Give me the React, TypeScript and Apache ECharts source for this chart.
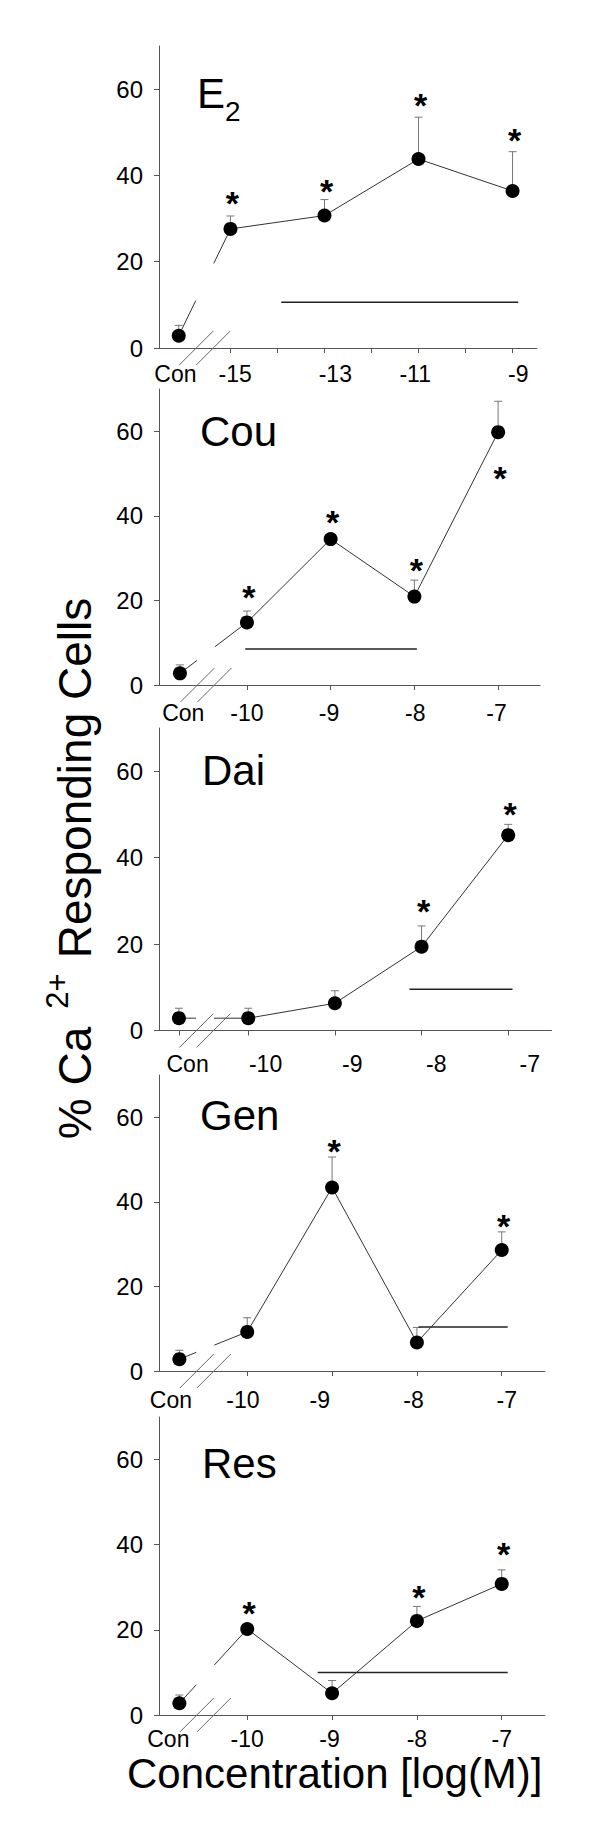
import React, { useEffect, useRef } from 'react';
import * as echarts from 'echarts';

const FONT = '"Liberation Sans", Arial, Helvetica, sans-serif';

// ---------- data (log M concentrations; first entry = control "Con") ----------
const e2X = [-16.1, -15, -13, -11, -9];
const e2Mean = [2.85, 27.6, 30.7, 43.8, 36.4];
const e2Sem = [2.4, 3.0, 3.7, 9.7, 9.1];
const e2Stars = [[-15, 35.5], [-13, 38.2], [-11, 58.2], [-9, 50.0]];
const e2Sig = [-13.92, -8.88, 10.6];

const couX = [-10.8, -10, -9, -8, -7];
const couMean = [2.75, 14.8, 34.5, 20.9, 59.8];
const couSem = [2.0, 2.7, 1.0, 3.9, 7.3];
const couStars = [[-10, 22.8], [-9, 40.5], [-8, 29.1], [-7, 50.8]];
const couSig = [-10.02, -7.97, 8.5];

const daiX = [-10.8, -10, -9, -8, -7];
const daiMean = [2.85, 2.85, 6.3, 19.4, 45.2];
const daiSem = [2.3, 2.3, 2.9, 4.8, 2.5];
const daiStars = [[-8, 29.5], [-7, 51.9]];
const daiSig = [-8.14, -6.95, 9.55];

const genX = [-10.8, -10, -9, -8, -7];
const genMean = [2.8, 9.25, 43.4, 6.75, 28.6];
const genSem = [2.1, 3.35, 7.2, 3.55, 4.3];
const genStars = [[-9, 54.0], [-7, 36.2]];
const genSig = [-7.98, -6.93, 10.4];

const resX = [-10.8, -10, -9, -8, -7];
const resMean = [2.75, 20.2, 5.1, 22.1, 30.8];
const resSem = [1.95, 1.0, 3.0, 3.4, 3.3];
const resStars = [[-10, 25.9], [-8, 29.6], [-7, 39.6]];
const resSig = [-9.17, -6.93, 10.0];

// ---------- tick labels ----------
const yTicks = [0, 20, 40, 60];
const e2Ticks = [-15, -14, -13, -12, -11, -10, -9];
const e2LabelVals = [-16.17, -14.9, -12.77, -11.07, -8.88];
const e2Labels = ['Con', '-15', '-13', '-11', '-9'];
const couTicks = [-10, -9, -8, -7];
const couLabelVals = [-10.76, -10, -9.02, -7.99, -7.02];
const daiTicks = [-10.8, -10, -9, -8, -7];
const daiLabelVals = [-10.7, -9.8, -8.8, -7.83, -6.75];
const genTicks = [-10, -9, -8, -7];
const genLabelVals = [-10.9, -10.05, -9.145, -8.04, -6.94];
const resTicks = [-10, -9, -8, -7];
const resLabelVals = [-10.93, -10, -9.03, -8, -7];
const logLabels = ['Con', '-10', '-9', '-8', '-7'];

const panels = [
  { x: e2X, mean: e2Mean, sem: e2Sem, stars: e2Stars, sig: e2Sig, ticks: e2Ticks, labelVals: e2LabelVals, labels: e2Labels },
  { x: couX, mean: couMean, sem: couSem, stars: couStars, sig: couSig, ticks: couTicks, labelVals: couLabelVals, labels: logLabels },
  { x: daiX, mean: daiMean, sem: daiSem, stars: daiStars, sig: daiSig, ticks: daiTicks, labelVals: daiLabelVals, labels: logLabels },
  { x: genX, mean: genMean, sem: genSem, stars: genStars, sig: genSig, ticks: genTicks, labelVals: genLabelVals, labels: logLabels },
  { x: resX, mean: resMean, sem: resSem, stars: resStars, sig: resSig, ticks: resTicks, labelVals: resLabelVals, labels: logLabels },
];

// ---------- layout ----------
const gridTop = [46, 389, 728, 1075, 1417];
const gridHeight = [302, 296, 302.5, 296, 298];
const gridWidth = [378, 381, 392.5, 386, 386];
const xMin = [-16.52, -11.05, -11.03, -11.04, -11.04];
const xMax = [-8.48, -6.5, -6.5, -6.49, -6.49];
const labelMargin = [14, 16, 21.5, 17.5, 12.5];
const titlePos = [[197, 93], [200, 431.7], [202, 770], [200, 1115.9], [202, 1463.7]];
const titleText = ['E', 'Cou', 'Dai', 'Gen', 'Res'];

const AXIS_COLOR = '#555';

function buildOption() {
  const grid: any[] = [];
  const xAxis: any[] = [];
  const yAxis: any[] = [];
  const series: any[] = [];

  panels.forEach((p, i) => {
    grid.push({ left: 159, top: gridTop[i], width: gridWidth[i], height: gridHeight[i] });
    xAxis.push({
      type: 'value', gridIndex: i, min: xMin[i], max: xMax[i],
      splitLine: { show: false },
      axisLine: { show: true, onZero: false, lineStyle: { color: AXIS_COLOR, width: 1 } },
      axisTick: { show: true, length: 5, customValues: p.ticks, lineStyle: { color: AXIS_COLOR } },
      axisLabel: {
        show: true, customValues: p.labelVals, margin: labelMargin[i],
        fontSize: 23, fontFamily: FONT, color: '#000',
        formatter: (v: number) => {
          const k = p.labelVals.findIndex((lv) => Math.abs(lv - v) < 1e-6);
          return k >= 0 ? p.labels[k] : '';
        },
      },
    });
    yAxis.push({
      type: 'value', gridIndex: i, min: 0, max: 70,
      splitLine: { show: false },
      axisLine: { show: true, lineStyle: { color: AXIS_COLOR, width: 1 } },
      axisTick: { show: true, length: 5, customValues: yTicks, lineStyle: { color: AXIS_COLOR } },
      axisLabel: { show: true, customValues: yTicks, margin: 16, fontSize: 24, fontFamily: FONT, color: '#000' },
    });

    // error bars
    series.push({
      type: 'custom', xAxisIndex: i, yAxisIndex: i, silent: true, z: 2,
      data: p.x.map((x, k) => [x, p.mean[k], p.mean[k] + p.sem[k]]),
      renderItem: (params: any, api: any) => {
        const a = api.coord([api.value(0), api.value(1)]);
        const b = api.coord([api.value(0), api.value(2)]);
        const st = { stroke: '#777', lineWidth: 1 };
        return {
          type: 'group',
          children: [
            { type: 'line', shape: { x1: a[0], y1: a[1], x2: b[0], y2: b[1] }, style: st },
            { type: 'line', shape: { x1: b[0] - 4, y1: b[1], x2: b[0] + 4, y2: b[1] }, style: st },
          ],
        };
      },
    });

    // broken link from control to first concentration + axis break marks
    series.push({
      type: 'custom', xAxisIndex: i, yAxisIndex: i, silent: true, z: 3,
      data: [[p.x[0], p.mean[0], p.x[1], p.mean[1]]],
      renderItem: (params: any, api: any) => {
        const p0 = api.coord([api.value(0), api.value(1)]);
        const p1 = api.coord([api.value(2), api.value(3)]);
        const base = api.coord([api.value(0), 0])[1];
        const yAt = (x: number) => p0[1] + ((p1[1] - p0[1]) * (x - p0[0])) / (p1[0] - p0[0]);
        const g1 = p0[0] + 17;
        const g2 = p0[0] + 35;
        const ls = { stroke: '#333', lineWidth: 1 };
        const ms = { stroke: '#666', lineWidth: 1 };
        const m1 = p0[0] + 17.5;
        const m2 = p0[0] + 34.5;
        return {
          type: 'group',
          children: [
            { type: 'line', shape: { x1: p0[0], y1: p0[1], x2: g1, y2: yAt(g1) }, style: ls },
            { type: 'line', shape: { x1: g2, y1: yAt(g2), x2: p1[0], y2: p1[1] }, style: ls },
            { type: 'line', shape: { x1: m1 - 17, y1: base + 17, x2: m1 + 17, y2: base - 17 }, style: ms },
            { type: 'line', shape: { x1: m2 - 17, y1: base + 17, x2: m2 + 17, y2: base - 17 }, style: ms },
          ],
        };
      },
    });

    // connecting line + markers for concentrations
    series.push({
      type: 'line', xAxisIndex: i, yAxisIndex: i, silent: true, z: 4,
      data: p.x.slice(1).map((x, k) => [x, p.mean[k + 1]]),
      symbol: 'circle', symbolSize: 14, showSymbol: true,
      itemStyle: { color: '#000', opacity: 1 },
      lineStyle: { color: '#333', width: 1 },
    });
    // control marker
    series.push({
      type: 'scatter', xAxisIndex: i, yAxisIndex: i, silent: true, z: 4,
      data: [[p.x[0], p.mean[0]]], symbolSize: 14, itemStyle: { color: '#000', opacity: 1 },
    });

    // significance bar
    series.push({
      type: 'line', xAxisIndex: i, yAxisIndex: i, silent: true, z: 3,
      data: [[p.sig[0], p.sig[2]], [p.sig[1], p.sig[2]]],
      symbol: 'none', lineStyle: { color: '#222', width: 1.6 },
    });

    // asterisks
    series.push({
      type: 'custom', xAxisIndex: i, yAxisIndex: i, silent: true, z: 5,
      data: p.stars,
      renderItem: (params: any, api: any) => {
        const c = api.coord([api.value(0), api.value(1)]);
        return {
          type: 'text', x: c[0] + 2, y: c[1] + 8,
          style: { text: '*', fontSize: 34, fontWeight: 'bold', fontFamily: FONT, fill: '#000', align: 'center', verticalAlign: 'middle' },
        };
      },
    });
  });

  const graphic: any[] = [];
  titleText.forEach((t, i) => {
    graphic.push({
      type: 'text', x: titlePos[i][0], y: titlePos[i][1], silent: true,
      style: { text: t, fontSize: 42, fontFamily: FONT, fill: '#000', align: 'left', verticalAlign: 'middle' },
    });
  });
  graphic.push({
    type: 'text', x: 225, y: 111.7, silent: true,
    style: { text: '2', fontSize: 28, fontFamily: FONT, fill: '#000', align: 'left', verticalAlign: 'middle' },
  });
  // y axis title (rotated, reads bottom to top)
  graphic.push({
    type: 'text', x: 75, y: 1083, rotation: Math.PI / 2, silent: true,
    style: { text: '% Ca', fontSize: 46, fontFamily: FONT, fill: '#000', align: 'center', verticalAlign: 'middle' },
  });
  graphic.push({
    type: 'text', x: 57, y: 991, rotation: Math.PI / 2, silent: true,
    style: { text: '2+', fontSize: 31, fontFamily: FONT, fill: '#000', align: 'center', verticalAlign: 'middle' },
  });
  graphic.push({
    type: 'text', x: 75, y: 778, rotation: Math.PI / 2, silent: true,
    style: { text: 'Responding Cells', fontSize: 46, fontFamily: FONT, fill: '#000', align: 'center', verticalAlign: 'middle' },
  });
  // x axis title
  graphic.push({
    type: 'text', x: 127, y: 1773.3, silent: true,
    style: { text: 'Concentration [log(M)]', fontSize: 42, fontFamily: FONT, fill: '#000', align: 'left', verticalAlign: 'middle' },
  });

  return {
    animation: false,
    backgroundColor: '#fff',
    grid, xAxis, yAxis, series, graphic,
  };
}

export default function App() {
  const ref = useRef<HTMLDivElement>(null);
  useEffect(() => {
    if (!ref.current) return;
    const chart = echarts.init(ref.current, null, { renderer: 'svg' });
    chart.setOption(buildOption() as any);
    return () => chart.dispose();
  }, []);
  return (
    <div
      ref={ref}
      style={{ position: 'absolute', left: 0, top: 0, width: 600, height: 1836, background: '#fff' }}
    />
  );
}
